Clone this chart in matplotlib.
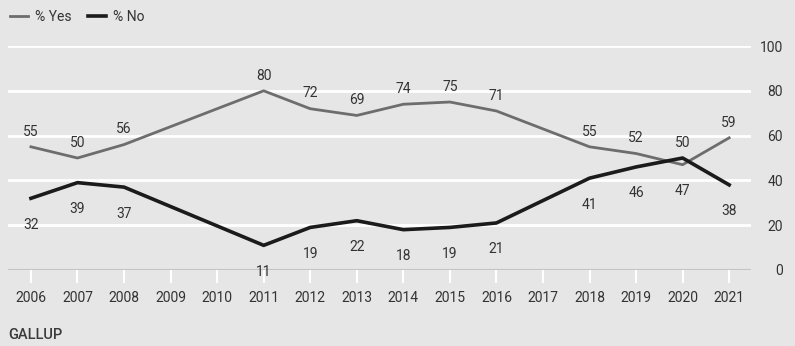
import numpy as np
import matplotlib.pyplot as plt

plt.rcParams['font.family'] = ['Roboto', 'DejaVu Sans']

years = np.arange(2006, 2022)
yes = np.array([55, 50, 56, np.nan, np.nan, 80, 72, 69, 74, 75, 71, np.nan, 55, 52, 47, 59])
no = np.array([32, 39, 37, np.nan, np.nan, 11, 19, 22, 18, 19, 21, np.nan, 41, 46, 50, 38])

bg = '#e6e6e6'
yes_color = '#6d6d6d'
no_color = '#1b1b1b'
text_color = '#333333'
fs = 10

fig = plt.figure(figsize=(7.95, 3.46), dpi=100, facecolor=bg)
ax = fig.add_axes([0.01, 0.2197, 0.9347, 0.6473], facecolor=bg)

ax.set_xlim(2005.506, 2021.47)
ax.set_ylim(0, 100)

for v in [20, 40, 60, 80, 100]:
    ax.axhline(v, color='white', lw=2, zorder=1)
ax.axhline(0, color='#c4c4c4', lw=1.5, zorder=1)

my = ~np.isnan(yes)
mn = ~np.isnan(no)
ax.plot(years[my], yes[my], color=yes_color, lw=2, zorder=3, label='% Yes')
ax.plot(years[mn], no[mn], color=no_color, lw=2.6, zorder=4, label='% No')

# labels: Yes above, No below, except where the lines cross
for x, y, n in zip(years, yes, no):
    if np.isnan(y):
        continue
    if y >= n:
        y_off, n_off = 11, -19
    else:
        y_off, n_off = -19, 11
    ax.annotate(f'{int(y)}', (x, y), xytext=(0, y_off), textcoords='offset points',
                ha='center', va='center', fontsize=fs, color=text_color)
    ax.annotate(f'{int(n)}', (x, n), xytext=(0, n_off), textcoords='offset points',
                ha='center', va='center', fontsize=fs, color=text_color)

for s in ax.spines.values():
    s.set_visible(False)

ax.set_xticks(years)
ax.set_xticklabels([str(y) for y in years])
ax.tick_params(axis='x', length=9, width=1.5, color='white', pad=6,
               labelsize=fs, labelcolor=text_color)

ax.yaxis.tick_right()
ax.set_yticks([0, 20, 40, 60, 80, 100])
ax.tick_params(axis='y', length=0, pad=23, labelsize=fs, labelcolor=text_color)
for lab in ax.get_yticklabels():
    lab.set_ha('right')

ax.legend(loc='upper left', bbox_to_anchor=(0.0, 1.0), bbox_transform=fig.transFigure,
          ncol=2, frameon=False, handlelength=1.3, handletextpad=0.5, columnspacing=1.2,
          fontsize=fs, labelcolor=text_color, borderaxespad=0.3)

fig.text(0.01, 0.012, 'GALLUP', fontsize=10.5, fontweight='medium', color='#3a3a3a',
         va='bottom', ha='left')

fig.savefig('out.png', dpi=100, facecolor=bg)
